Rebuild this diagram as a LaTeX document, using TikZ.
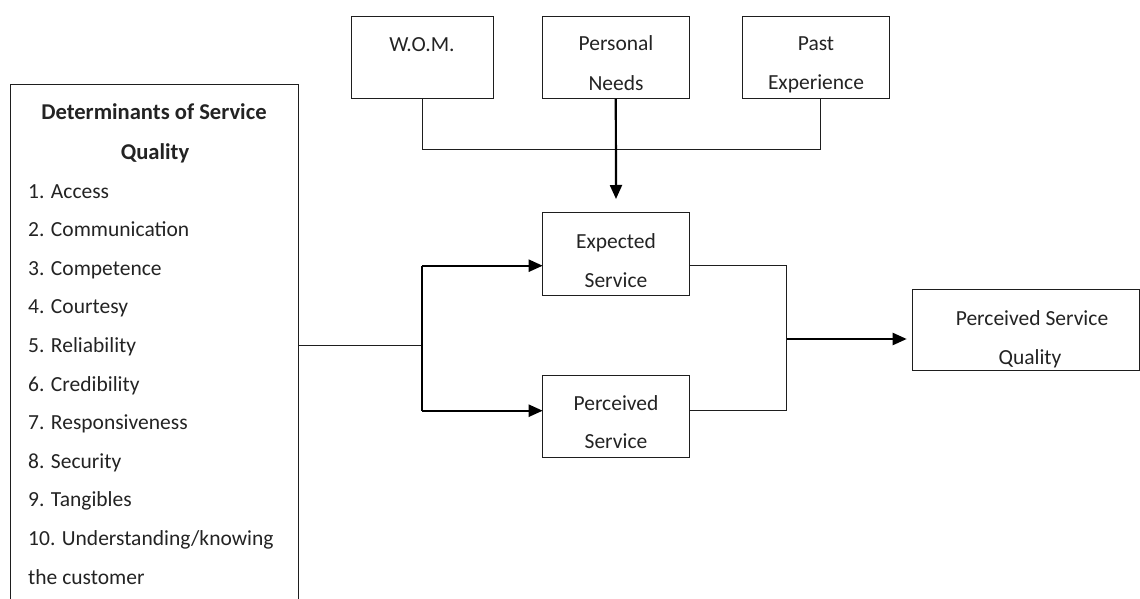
\documentclass[tikz,border=0pt]{standalone}
\usepackage{fontspec}
\setmainfont{Carlito}
\usetikzlibrary{arrows.meta}
\definecolor{ink}{RGB}{35,35,35}
\definecolor{edge}{RGB}{30,30,30}
\begin{document}
\begin{tikzpicture}[x=1pt,y=-1pt,
  box/.style={draw=edge, line width=1pt, inner sep=0pt, outer sep=0pt},
  txt/.style={font=\fontsize{21.5}{24}\selectfont, text=ink, inner sep=0pt, anchor=base},
  itm/.style={txt, anchor=base west},
  ttl/.style={txt, font=\fontsize{22.6}{26}\selectfont\bfseries},
  conn/.style={draw=edge, line width=1pt},
  strong/.style={draw=black, line width=2.2pt},
  arr/.style={-{Triangle[length=14pt,width=12pt]}}]
\useasboundingbox (0,0) rectangle (1140,599);

% boxes
\node[box, minimum width=288pt, minimum height=540pt] (det) at (154,355) {};
\node[box, minimum width=142.3pt, minimum height=82pt] (wom) at (422.2,58) {};
\node[box, minimum width=147pt, minimum height=82pt] (pn) at (615.8,58) {};
\node[box, minimum width=146.6pt, minimum height=82pt] (pe) at (816,58) {};
\node[box, minimum width=146.6pt, minimum height=83pt] (es) at (616,253.5) {};
\node[box, minimum width=146.6pt, minimum height=82.7pt] (ps) at (616,416.4) {};
\node[box, minimum width=226.3pt, minimum height=81.5pt] (psq) at (1025.85,329.75) {};

% texts
\node[txt] (womt) at (422,52) {W.O.M.};
\node[txt] (pnt1) at (616,51) {Personal};
\node[txt] (pnt2) at (616,91) {Needs};
\begin{scope}
  \clip (pe.south west) rectangle (pe.north east);
  \node[txt] (pet1) at (816,51) {Past};
  \node[txt] (pet2) at (816,90) {Experience};
\end{scope}
\node[txt] (est1) at (616,248) {Expected};
\node[txt] (est2) at (616,287) {Service};
\node[txt] (pst1) at (616,410) {Perceived};
\node[txt] (pst2) at (616,448) {Service};
\begin{scope}
  \clip (psq.south west) rectangle (psq.north east);
  \node[txt] (psqt1) at (1032,325) {Perceived Service};
  \node[txt] (psqt2) at (1030,364) {Quality};
\end{scope}

\node[ttl] (dt1) at (154,120) {Determinants of Service};
\node[ttl] (dt2) at (155,159) {Quality};
\node[itm] (i1) at (28,198) {1. Access};
\node[itm] (i2) at (28,236.6) {2. Communication};
\node[itm] (i3) at (28,275.2) {3. Competence};
\node[itm] (i4) at (28,313.8) {4. Courtesy};
\node[itm] (i5) at (28,352.4) {5. Reliability};
\node[itm] (i6) at (28,391) {6. Credibility};
\node[itm] (i7) at (28,429.6) {7. Responsiveness};
\node[itm] (i8) at (28,468.2) {8. Security};
\node[itm] (i9) at (28,506.8) {9. Tangibles};
\node[itm] (i10) at (28,545.4) {10. Understanding/knowing};
\node[itm] (i11) at (28,584) {the customer};

% top connectors
\coordinate (hl) at (422.2,149);
\coordinate (hr) at (820.7,149);
\draw[conn] (wom.south) -- (wom.south |- hl) -- (hr) -- (hr |- pe.south);
\draw[strong,arr] (pn.south) -- ([yshift=13pt]es.north);

% left connectors
\coordinate (jl) at (422,345);
\coordinate (ju) at (422,265.7);
\coordinate (jd) at (422,410.7);
\draw[conn] (det.east |- jl) -- (jl);
\draw[strong] (ju) -- (jd);
\draw[strong,arr] (ju) -- (ju -| es.west);
\draw[strong,arr] (jd) -- (jd -| ps.west);

% right connectors
\coordinate (ru) at (786.7,265.7);
\coordinate (rd) at (786.7,410.7);
\coordinate (rm) at (786.7,339);
\draw[conn] (es.east |- ru) -- (ru) -- (rd) -- (ps.east |- rd);
\draw[strong,arr] (rm) -- ([xshift=-6pt]psq.west |- rm);
\end{tikzpicture}
\end{document}
